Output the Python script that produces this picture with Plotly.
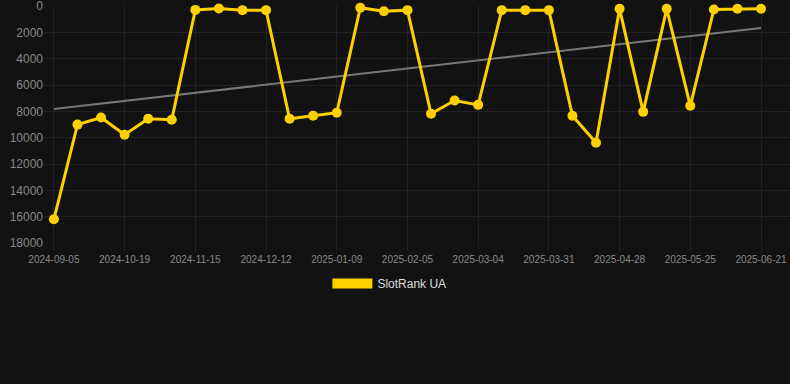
import plotly.graph_objects as go

tick_labels = ["2024-09-05", "2024-10-19", "2024-11-15", "2024-12-12", "2025-01-09",
               "2025-02-05", "2025-03-04", "2025-03-31", "2025-04-28", "2025-05-25",
               "2025-06-21"]
rank_values = [16200, 9000, 8460, 9770, 8560, 8630, 280, 180, 300, 300,
               8560, 8330, 8100, 120, 380, 300, 8180, 7170, 7500, 300,
               300, 300, 8330, 10380, 200, 8030, 200, 7570, 250, 200, 200]
trend_values = [7820, 1650]
series_name = "SlotRank UA"

n = len(rank_values)
x_idx = list(range(n))
tick_pos = list(range(0, n, 3))

GOLD = "#FFD000"
BG = "#121212"
GRID = "#222222"

fig = go.Figure()
fig.add_trace(go.Scatter(
    x=[x_idx[0], x_idx[-1]], y=trend_values, mode="lines",
    line=dict(color="#777777", width=2), showlegend=False, hoverinfo="skip"))
fig.add_trace(go.Scatter(
    x=x_idx, y=rank_values, mode="lines+markers",
    line=dict(color=GOLD, width=3), marker=dict(color=GOLD, size=10),
    showlegend=False, cliponaxis=False))
fig.add_trace(go.Scatter(
    x=[None], y=[None], mode="lines", name=series_name,
    line=dict(color=GOLD, width=11), showlegend=True))

fig.update_layout(
    width=790, height=384,
    paper_bgcolor=BG, plot_bgcolor=BG,
    margin=dict(l=44, r=0, t=6, b=141, autoexpand=False),
    font=dict(family="Liberation Sans, Arial, sans-serif", color="#8a8a8a"),
    showlegend=True,
    legend=dict(orientation="h", x=0.463, xanchor="center",
                y=-0.11, yanchor="top",
                font=dict(size=12, color="#dddddd"), itemwidth=40,
                bgcolor="rgba(0,0,0,0)"),
    xaxis=dict(range=[-0.42, 31.23], tickvals=tick_pos, ticktext=tick_labels,
               showgrid=True, gridcolor=GRID, gridwidth=1, zeroline=False,
               ticks="outside", ticklen=7, tickcolor=GRID, tickangle=0,
               tickfont=dict(size=10, color="#888888"), showline=False),
    yaxis=dict(range=[18000, -15], tickvals=list(range(0, 18001, 2000)),
               tickformat="d", ticklabeloverflow="allow",
               showgrid=True, gridcolor=GRID, gridwidth=1, zeroline=False,
               tickfont=dict(size=12, color="#888888"), ticks="", showline=False),
)

fig.write_html("out.html", config={"displayModeBar": False},
               post_script="document.body.style.margin='0';document.body.style.background='#121212';")
